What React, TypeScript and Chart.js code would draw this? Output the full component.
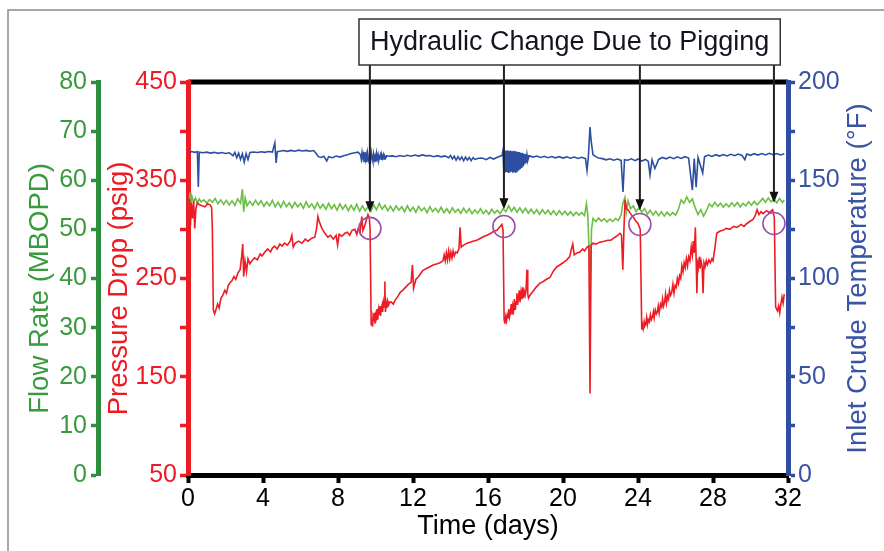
import { useEffect, useRef } from "react";
import { Chart, registerables } from "chart.js";

Chart.register(...registerables);

const FONT = "'Liberation Sans', Arial, sans-serif";

// Time axis (days)
const dayMin = 0;
const dayMax = 32;
const dayStep = 4;

// Pressure drop readings [day, psig]
const pressureReadings: [number, number][] = [
  [0.04, 318], [0.08, 331], [0.13, 304], [0.18, 327], [0.24, 311], [0.3, 329], [0.36, 301], [0.42, 321],
  [0.5, 327], [0.62, 325], [0.75, 324], [0.9, 323], [1.05, 326], [1.18, 325], [1.26, 322], [1.3, 300],
  [1.35, 218], [1.42, 214], [1.5, 219], [1.58, 224], [1.66, 220], [1.76, 230], [1.86, 233], [1.96, 238],
  [2.05, 235], [2.15, 243], [2.25, 246], [2.35, 248], [2.45, 252], [2.55, 249], [2.67, 256], [2.78, 259],
  [2.86, 272], [2.92, 285], [2.97, 252], [3.04, 268], [3.12, 257], [3.2, 270], [3.3, 265], [3.41, 268],
  [3.55, 271], [3.7, 269], [3.85, 275], [3.95, 273], [4.1, 277], [4.25, 280], [4.4, 277], [4.5, 281],
  [4.62, 283], [4.75, 280], [4.9, 285], [5.02, 283], [5.15, 286], [5.3, 284], [5.45, 288], [5.54, 294],
  [5.61, 282], [5.72, 286], [5.9, 288], [6.08, 286], [6.25, 290], [6.4, 288], [6.6, 291], [6.76, 292],
  [6.85, 300], [6.93, 313], [7.0, 308], [7.14, 301], [7.3, 296], [7.46, 292], [7.6, 294], [7.75, 290],
  [7.9, 294], [7.98, 284], [8.06, 295], [8.2, 293], [8.37, 296], [8.5, 297], [8.62, 294], [8.75, 299],
  [8.9, 300], [9.0, 295], [9.08, 301], [9.18, 298], [9.27, 313], [9.33, 299], [9.43, 304], [9.52, 310],
  [9.6, 315], [9.67, 312], [9.71, 300],
  [9.77, 203], [9.8, 209], [9.84, 201], [9.87, 211], [9.91, 207], [9.94, 215], [9.97, 204], [10.01, 213],
  [10.05, 210], [10.08, 219], [10.12, 208], [10.16, 218], [10.19, 214], [10.23, 222], [10.27, 212], [10.31, 220],
  [10.35, 223], [10.38, 216], [10.42, 226], [10.46, 221], [10.5, 247], [10.53, 216], [10.57, 225], [10.61, 220],
  [10.65, 227], [10.7, 223], [10.76, 226],
  [10.85, 226], [10.95, 224], [11.05, 228], [11.2, 232], [11.32, 236], [11.45, 238], [11.6, 241], [11.75, 244],
  [11.9, 246], [11.97, 264], [12.03, 240], [12.15, 249], [12.3, 252], [12.52, 258], [12.7, 260], [12.9, 262],
  [13.1, 264], [13.3, 265], [13.44, 266], [13.6, 268], [13.66, 274], [13.72, 268], [13.78, 276], [13.84, 269],
  [13.9, 278], [13.96, 270], [14.02, 277], [14.08, 271], [14.14, 278], [14.2, 273], [14.28, 277], [14.35, 276],
  [14.45, 280], [14.51, 302], [14.57, 282], [14.7, 284], [14.88, 286], [15.05, 287], [15.2, 288], [15.4, 289],
  [15.6, 291], [15.8, 293], [15.95, 294], [16.15, 296], [16.3, 298], [16.48, 299], [16.6, 302], [16.74, 305],
  [16.8, 300],
  [16.86, 208], [16.9, 204], [16.95, 211], [16.99, 207], [17.03, 213], [17.07, 210], [17.11, 219], [17.15, 211],
  [17.2, 216], [17.24, 224], [17.28, 214], [17.33, 222], [17.37, 219], [17.41, 229], [17.45, 218], [17.5, 226],
  [17.54, 235], [17.58, 223], [17.63, 231], [17.67, 238], [17.71, 226], [17.76, 236], [17.8, 229], [17.85, 241],
  [17.89, 230], [17.93, 237], [17.98, 233], [18.03, 239], [18.08, 259], [18.12, 234], [18.16, 230], [18.24, 233],
  [18.4, 237], [18.56, 241], [18.76, 245], [18.95, 247], [19.1, 249], [19.3, 251], [19.5, 258], [19.68, 262],
  [19.85, 264], [20.0, 266], [20.2, 269], [20.35, 272], [20.45, 280], [20.52, 285], [20.6, 274], [20.75, 276],
  [20.9, 277], [21.05, 280], [21.15, 278], [21.28, 282], [21.38, 283], [21.44, 133], [21.5, 284],
  [21.6, 286], [21.75, 285], [21.97, 287], [22.2, 288], [22.4, 289], [22.55, 289], [22.7, 291], [22.85, 293],
  [23.04, 296], [23.12, 294], [23.19, 259], [23.25, 300], [23.31, 330], [23.38, 321], [23.47, 320], [23.6, 316],
  [23.73, 313], [23.86, 309], [24.0, 306], [24.12, 300],
  [24.2, 198], [24.24, 203], [24.28, 199], [24.33, 206], [24.37, 202], [24.42, 204], [24.46, 210], [24.5, 203],
  [24.55, 208], [24.6, 206], [24.66, 213], [24.71, 208], [24.77, 211], [24.82, 216], [24.86, 210], [24.92, 218],
  [24.98, 214], [25.03, 216], [25.08, 222], [25.13, 215], [25.2, 224], [25.26, 221], [25.31, 229], [25.36, 222],
  [25.42, 226], [25.47, 234], [25.52, 225], [25.58, 232], [25.63, 229], [25.68, 238], [25.74, 233], [25.8, 236],
  [25.86, 244], [25.92, 235], [25.98, 243], [26.04, 241], [26.1, 250], [26.16, 245], [26.22, 253], [26.28, 250],
  [26.34, 263], [26.4, 257], [26.46, 266], [26.52, 261], [26.58, 270], [26.64, 263], [26.7, 272], [26.77, 268],
  [26.84, 282], [26.9, 274], [26.95, 288], [27.0, 276], [27.06, 302], [27.1, 270], [27.14, 235], [27.18, 268],
  [27.22, 262], [27.27, 272], [27.31, 260], [27.36, 268], [27.42, 262], [27.47, 235], [27.52, 266], [27.58, 262],
  [27.64, 268], [27.7, 264], [27.78, 269], [27.86, 266], [27.94, 270], [28.0, 268],
  [28.1, 281], [28.2, 296], [28.35, 298], [28.53, 299], [28.7, 301], [28.9, 300], [29.1, 303], [29.28, 302],
  [29.5, 305], [29.65, 303], [29.81, 306], [29.96, 308], [30.13, 310], [30.25, 314], [30.35, 320], [30.45, 315],
  [30.56, 318], [30.67, 316], [30.85, 319], [31.0, 317], [31.18, 320], [31.27, 312], [31.34, 221], [31.44, 217],
  [31.5, 222], [31.56, 215], [31.62, 224], [31.68, 231], [31.74, 225], [31.8, 234],
];

// Flow rate readings [day, MBOPD]
const flowReadings: [number, number][] = [
  [0.05, 53.5], [0.1, 57.5], [0.15, 55.0], [0.2, 56.8], [0.3, 55.6], [0.4, 56.4], [0.5, 55.4], [0.6, 56.2],
  [0.7, 55.6], [0.85, 56.0], [1.0, 55.3], [1.15, 56.1], [1.3, 55.5], [1.45, 56.3], [1.6, 55.2], [1.75, 56.0],
  [1.9, 55.1], [2.05, 55.9], [2.2, 55.0], [2.35, 55.8], [2.5, 54.9], [2.65, 56.2], [2.8, 55.3], [2.9, 58.2],
  [2.97, 53.6], [3.05, 56.4], [3.15, 54.8], [3.3, 55.7], [3.45, 54.9], [3.6, 55.9], [3.75, 55.0], [3.9, 55.8],
  [4.05, 54.7], [4.2, 55.6], [4.35, 54.8], [4.5, 55.9], [4.65, 54.6], [4.8, 55.5], [4.95, 54.5], [5.1, 55.7],
  [5.25, 54.6], [5.4, 55.4], [5.55, 54.4], [5.7, 55.5], [5.85, 54.6], [6.0, 55.3], [6.15, 54.3], [6.3, 55.6],
  [6.45, 54.5], [6.6, 55.2], [6.75, 54.2], [6.9, 55.4], [7.05, 54.3], [7.2, 55.1], [7.35, 54.1], [7.5, 55.3],
  [7.65, 54.2], [7.8, 55.0], [7.95, 53.9], [8.1, 55.2], [8.25, 54.1], [8.4, 55.0], [8.55, 53.8], [8.7, 54.9],
  [8.85, 53.9], [9.0, 55.1], [9.15, 53.7], [9.3, 54.8], [9.45, 53.8], [9.6, 54.6], [9.75, 53.6], [9.9, 55.0],
  [10.05, 54.0], [10.2, 55.3], [10.35, 54.1], [10.5, 54.9], [10.65, 53.8], [10.8, 54.7], [10.95, 53.7], [11.1, 54.8],
  [11.25, 53.9], [11.4, 54.6], [11.55, 53.6], [11.7, 54.8], [11.85, 53.7], [12.0, 54.5], [12.15, 53.5], [12.3, 54.7],
  [12.45, 53.8], [12.6, 54.4], [12.75, 53.4], [12.9, 54.6], [13.05, 53.6], [13.2, 54.3], [13.35, 53.5], [13.5, 54.5],
  [13.65, 53.4], [13.8, 54.2], [13.95, 53.3], [14.1, 54.4], [14.25, 53.5], [14.4, 54.1], [14.55, 53.3], [14.7, 54.3],
  [14.85, 53.4], [15.0, 54.2], [15.15, 53.2], [15.3, 54.0], [15.45, 53.3], [15.6, 54.2], [15.75, 53.2], [15.9, 53.9],
  [16.05, 53.1], [16.2, 54.1], [16.35, 53.3], [16.5, 53.9], [16.65, 53.2], [16.8, 54.2], [16.95, 53.6], [17.1, 54.8],
  [17.25, 53.7], [17.4, 54.5], [17.55, 53.5], [17.7, 54.4], [17.85, 53.4], [18.0, 54.3], [18.15, 53.3], [18.3, 54.1],
  [18.45, 53.2], [18.6, 54.0], [18.75, 53.1], [18.9, 54.0], [19.05, 53.2], [19.2, 53.9], [19.35, 53.0], [19.5, 53.8],
  [19.65, 52.9], [19.8, 53.8], [19.95, 53.0], [20.1, 53.7], [20.25, 52.9], [20.4, 53.6], [20.55, 52.8], [20.7, 53.5],
  [20.85, 52.9], [21.0, 53.4], [21.15, 52.8], [21.25, 55.2], [21.32, 53.0], [21.4, 45.0], [21.46, 38.3], [21.52, 50.0],
  [21.6, 52.2], [21.75, 51.6], [21.9, 52.3], [22.05, 51.7], [22.2, 52.2], [22.35, 51.5], [22.5, 52.1], [22.65, 51.6],
  [22.8, 52.2], [22.95, 51.8], [23.1, 53.0], [23.2, 55.4], [23.3, 56.5], [23.38, 53.5], [23.47, 55.8], [23.6, 54.2],
  [23.75, 54.8], [23.9, 53.6], [24.05, 54.4], [24.2, 53.5], [24.35, 54.2], [24.5, 53.1], [24.65, 53.9], [24.8, 52.9],
  [24.95, 53.7], [25.1, 52.8], [25.25, 53.6], [25.4, 52.7], [25.55, 53.5], [25.7, 52.8], [25.85, 53.4], [26.0, 52.9],
  [26.15, 54.0], [26.3, 56.0], [26.45, 55.3], [26.6, 56.6], [26.75, 55.5], [26.9, 56.2], [27.05, 54.4], [27.2, 53.0],
  [27.35, 54.0], [27.5, 52.7], [27.65, 53.8], [27.8, 55.2], [27.95, 54.6], [28.1, 55.5], [28.25, 54.7], [28.4, 55.3],
  [28.55, 54.5], [28.7, 55.2], [28.85, 54.6], [29.0, 55.4], [29.15, 54.7], [29.3, 55.5], [29.45, 54.6], [29.6, 55.3],
  [29.75, 54.8], [29.9, 55.6], [30.05, 54.9], [30.2, 55.7], [30.35, 55.0], [30.5, 55.6], [30.65, 56.3], [30.8, 55.5],
  [30.95, 56.4], [31.1, 55.6], [31.25, 56.2], [31.4, 55.4], [31.55, 56.3], [31.7, 55.5], [31.8, 56.0],
];

// Inlet crude temperature readings [day, °F]
const temperatureReadings: [number, number][] = [
  [0.05, 164.0], [0.2, 164.6], [0.35, 164.2], [0.5, 164.5], [0.55, 146.6], [0.6, 164.3], [0.8, 164.0], [1.0, 164.3],
  [1.2, 163.8], [1.4, 164.2], [1.6, 163.7], [1.8, 164.1], [2.0, 163.6], [2.2, 164.0], [2.4, 162.5], [2.5, 164.2],
  [2.6, 161.5], [2.7, 163.8], [2.8, 160.6], [2.9, 163.5], [3.0, 159.3], [3.1, 163.6], [3.2, 160.5], [3.3, 164.1],
  [3.5, 164.4], [3.7, 164.1], [3.9, 164.5], [4.1, 164.2], [4.3, 164.6], [4.5, 164.3], [4.63, 169.0], [4.7, 158.8],
  [4.76, 164.5], [4.9, 164.8], [5.1, 165.1], [5.3, 164.7], [5.5, 165.2], [5.7, 164.8], [5.9, 165.3], [6.1, 164.9],
  [6.3, 165.2], [6.5, 164.8], [6.7, 165.1], [6.85, 163.5], [6.95, 162.0], [7.1, 161.6], [7.25, 162.2], [7.4, 159.8],
  [7.5, 162.0], [7.7, 161.5], [7.9, 162.3], [8.1, 161.8], [8.3, 162.5], [8.5, 163.0], [8.7, 163.6], [8.9, 164.0],
  [9.07, 164.3],
  [9.2, 163.0], [9.24, 160.9], [9.28, 164.1], [9.31, 161.8], [9.35, 163.2], [9.39, 159.6], [9.43, 164.3], [9.47, 160.8],
  [9.5, 162.7], [9.54, 159.2], [9.58, 163.9], [9.62, 161.3], [9.66, 158.9], [9.7, 163.5], [9.74, 160.2], [9.78, 164.0],
  [9.82, 161.5], [9.86, 159.7], [9.9, 163.3], [9.94, 160.6], [9.98, 162.2], [10.02, 159.4], [10.06, 163.6], [10.1, 161.0],
  [10.14, 162.9], [10.18, 160.3], [10.22, 161.8], [10.26, 163.1], [10.3, 160.7], [10.34, 162.6], [10.38, 161.2], [10.42, 162.9],
  [10.46, 160.9], [10.5, 162.3], [10.55, 161.4], [10.6, 162.5], [10.7, 162.2],
  [10.9, 162.4], [11.1, 162.0], [11.3, 162.6], [11.5, 162.1], [11.7, 162.7], [11.9, 162.2], [12.1, 162.8],
  [12.3, 162.3], [12.5, 162.9], [12.7, 162.4], [12.9, 162.6], [13.1, 162.0], [13.3, 162.5], [13.5, 161.9], [13.7, 162.4],
  [13.9, 161.5], [14.0, 162.6], [14.1, 160.8], [14.2, 162.3], [14.3, 160.2], [14.4, 162.0], [14.5, 160.4], [14.6, 161.9],
  [14.7, 159.9], [14.8, 161.8], [14.9, 160.3], [15.0, 161.6], [15.1, 160.0], [15.2, 161.5], [15.3, 160.6], [15.5, 161.2],
  [15.7, 161.3], [15.9, 160.5], [16.1, 161.6], [16.3, 160.8], [16.5, 161.7], [16.7, 162.5],
  [16.75, 162.6], [16.8, 165.2], [16.84, 154.5], [16.88, 165.4], [16.92, 153.9], [16.96, 165.0], [17.0, 154.2], [17.04, 165.3],
  [17.08, 153.7], [17.12, 164.9], [17.16, 154.0], [17.2, 165.1], [17.24, 154.4], [17.28, 164.8], [17.32, 153.8], [17.36, 165.0],
  [17.4, 154.1], [17.44, 164.7], [17.48, 153.7], [17.52, 164.6], [17.56, 154.3], [17.6, 164.4], [17.64, 155.0], [17.68, 164.2],
  [17.72, 155.6], [17.76, 164.0], [17.8, 156.2], [17.84, 163.8], [17.88, 157.0], [17.92, 163.5], [17.96, 158.2], [18.0, 163.2],
  [18.04, 159.0], [18.08, 162.9], [18.12, 160.0], [18.2, 162.5],
  [18.4, 161.8], [18.6, 162.3], [18.8, 161.6], [19.0, 162.2], [19.2, 161.5], [19.4, 162.1], [19.6, 161.4], [19.8, 162.0],
  [20.0, 161.3], [20.2, 161.9], [20.4, 161.2], [20.6, 161.8], [20.8, 161.1], [21.0, 161.7], [21.2, 161.0], [21.28, 155.0],
  [21.35, 161.5], [21.44, 177.1], [21.5, 170.0], [21.6, 163.0], [21.75, 162.0], [21.9, 161.3], [22.1, 161.0], [22.3, 160.4],
  [22.5, 160.9], [22.7, 160.2], [22.9, 160.8], [23.1, 160.1], [23.2, 144.0], [23.28, 160.5], [23.45, 160.2], [23.65, 160.9],
  [23.85, 160.0], [24.0, 160.8], [24.2, 159.8], [24.4, 160.6], [24.55, 159.6], [24.64, 152.7], [24.75, 160.4], [24.9, 156.0],
  [25.1, 160.6], [25.3, 161.6], [25.5, 160.9], [25.7, 161.8], [25.9, 161.0], [26.1, 161.9], [26.3, 161.1], [26.5, 162.0],
  [26.7, 161.3], [26.9, 145.0], [27.0, 161.0], [27.1, 146.5], [27.2, 161.6], [27.45, 153.7], [27.55, 162.0], [27.75, 162.8],
  [27.95, 162.1], [28.15, 163.0], [28.35, 162.3], [28.55, 163.1], [28.75, 162.4], [28.95, 163.2], [29.15, 162.5], [29.35, 163.3],
  [29.55, 162.6], [29.7, 160.5], [29.8, 163.4], [30.0, 162.7], [30.2, 163.5], [30.4, 162.8], [30.6, 163.6], [30.8, 162.9],
  [31.0, 163.7], [31.2, 163.0], [31.4, 163.6], [31.6, 162.9], [31.8, 163.5],
];

// Pigging events: day, pressure at the hydraulic change, flow where the arrow lands
const pigDays = [9.7, 16.85, 24.1, 31.25];
const pigPressure = [301, 303, 305, 306];
const pigArrowFlow = [53.5, 54.1, 53.9, 55.4];

const calloutText = "Hydraulic Change Due to Pigging";

const GREEN_AXIS = "#2e8f3e";
const GREEN_TEXT = "#3a9a3f";
const RED = "#ed1c24";
const BLUE_AXIS = "#2f4ea2";
const BLUE_TEXT = "#3a54a4";

const decorations = {
  id: "decorations",
  beforeDraw(chart: any) {
    const { ctx, chartArea: a } = chart;
    ctx.save();
    // page frame
    ctx.strokeStyle = "#8c8c8c";
    ctx.lineWidth = 1.5;
    ctx.beginPath();
    ctx.moveTo(8, chart.height);
    ctx.lineTo(8, 10);
    ctx.lineTo(chart.width, 10);
    ctx.stroke();
    // top frame of the plot
    ctx.strokeStyle = "#000";
    ctx.lineWidth = 5;
    ctx.beginPath();
    ctx.moveTo(a.left, a.top);
    ctx.lineTo(a.right, a.top);
    ctx.stroke();
    ctx.restore();
  },
  afterDatasetsDraw(chart: any) {
    const { ctx, scales } = chart;
    ctx.save();
    ctx.strokeStyle = "#9a4fa8";
    ctx.lineWidth = 1.6;
    pigDays.forEach((d, i) => {
      const x = scales.x.getPixelForValue(d);
      const y = scales.yPress.getPixelForValue(pigPressure[i]);
      ctx.beginPath();
      ctx.arc(x, y, 11, 0, Math.PI * 2);
      ctx.stroke();
    });
    ctx.restore();
  },
  afterDraw(chart: any) {
    const { ctx, chartArea: a, scales } = chart;
    ctx.save();
    const mid = (a.top + a.bottom) / 2 + 10;

    // axis titles
    const title = (text: string, x: number, y: number, color: string) => {
      ctx.save();
      ctx.translate(x, y);
      ctx.rotate(-Math.PI / 2);
      ctx.fillStyle = color;
      ctx.font = `27.5px ${FONT}`;
      ctx.textAlign = "center";
      ctx.textBaseline = "middle";
      ctx.fillText(text, 0, 0);
      ctx.restore();
    };
    title("Flow Rate (MBOPD)", scales.yFlow.left + 32, mid, GREEN_TEXT);
    title("Pressure Drop (psig)", scales.yPress.left + 21, mid, RED);
    title("Inlet Crude Temperature (°F)", scales.yTemp.right - 26, (a.top + a.bottom) / 2, BLUE_TEXT);

    // callout box
    ctx.font = `27px ${FONT}`;
    const tw = ctx.measureText(calloutText).width;
    const bw = tw + 22;
    const bx = a.left + 171;
    const by = 19;
    const bh = 46;
    // arrows
    ctx.strokeStyle = "#222";
    ctx.fillStyle = "#111";
    ctx.lineWidth = 2;
    pigDays.forEach((d, i) => {
      const x = scales.x.getPixelForValue(d);
      const tip = scales.yFlow.getPixelForValue(pigArrowFlow[i]);
      ctx.beginPath();
      ctx.moveTo(x, by + bh);
      ctx.lineTo(x, tip - 9);
      ctx.stroke();
      ctx.beginPath();
      ctx.moveTo(x, tip);
      ctx.lineTo(x - 4.5, tip - 11);
      ctx.lineTo(x + 4.5, tip - 11);
      ctx.closePath();
      ctx.fill();
    });
    ctx.fillStyle = "#fff";
    ctx.fillRect(bx, by, bw, bh);
    ctx.strokeStyle = "#333";
    ctx.lineWidth = 1.5;
    ctx.strokeRect(bx, by, bw, bh);
    ctx.fillStyle = "#141420";
    ctx.textAlign = "center";
    ctx.textBaseline = "middle";
    ctx.fillText(calloutText, bx + bw / 2, by + bh / 2 + 1);
    ctx.restore();
  },
};

export default function App() {
  const canvasRef = useRef<HTMLCanvasElement | null>(null);

  useEffect(() => {
    const canvas = canvasRef.current;
    if (!canvas) return;
    const tickFont = { family: FONT, size: 25 };

    const chart = new Chart(canvas, {
      type: "line",
      data: {
        datasets: [
          {
            label: "Pressure Drop",
            data: pressureReadings.map(([x, y]) => ({ x, y })),
            yAxisID: "yPress",
            borderColor: RED,
            borderWidth: 1.6,
            pointRadius: 0,
            order: 1,
          },
          {
            label: "Flow Rate",
            data: flowReadings.map(([x, y]) => ({ x, y })),
            yAxisID: "yFlow",
            borderColor: "#6cbf45",
            borderWidth: 1.6,
            pointRadius: 0,
            order: 2,
          },
          {
            label: "Inlet Crude Temperature",
            data: temperatureReadings.map(([x, y]) => ({ x, y })),
            yAxisID: "yTemp",
            borderColor: "#2d4fa3",
            borderWidth: 1.6,
            pointRadius: 0,
            order: 3,
          },
        ],
      },
      options: {
        responsive: false,
        animation: false,
        events: [],
        layout: { padding: { left: 8, right: 0, top: 82, bottom: 0 } },
        plugins: { legend: { display: false }, tooltip: { enabled: false } },
        scales: {
          x: {
            type: "linear",
            position: "bottom",
            min: dayMin,
            max: dayMax,
            ticks: { stepSize: dayStep, color: "#000", font: tickFont, padding: 1, maxRotation: 0, autoSkip: false },
            grid: { drawOnChartArea: false, tickLength: 8, tickWidth: 4, tickColor: "#000" },
            border: { color: "#000", width: 5 },
            title: { display: true, text: "Time (days)", color: "#000", font: { family: FONT, size: 27 }, padding: { top: 0, bottom: 8 } },
            afterFit: (s: any) => { s.height = 76; },
          },
          yFlow: {
            type: "linear",
            position: "left",
            weight: 2,
            min: 0,
            max: 80,
            ticks: { stepSize: 10, color: GREEN_TEXT, font: tickFont, padding: 4, autoSkip: false },
            grid: { drawOnChartArea: false, tickLength: 7, tickWidth: 3.5, tickColor: GREEN_AXIS },
            border: { color: GREEN_AXIS, width: 5 },
            afterFit: (s: any) => { s.width = 90; },
          },
          yPress: {
            type: "linear",
            position: "left",
            weight: 1,
            min: 50,
            max: 450,
            ticks: {
              stepSize: 50,
              color: RED,
              font: tickFont,
              padding: 3,
              autoSkip: false,
              callback: (v: any) => ((Number(v) - 50) % 100 === 0 ? String(v) : ""),
            },
            grid: { drawOnChartArea: false, tickLength: 8, tickWidth: 3.5, tickColor: RED },
            border: { color: RED, width: 5 },
            afterFit: (s: any) => { s.width = 90; },
          },
          yTemp: {
            type: "linear",
            position: "right",
            min: 0,
            max: 200,
            ticks: {
              stepSize: 25,
              color: BLUE_TEXT,
              font: tickFont,
              padding: 3,
              autoSkip: false,
              callback: (v: any) => (Number(v) % 50 === 0 ? String(v) : ""),
            },
            grid: { drawOnChartArea: false, tickLength: 7, tickWidth: 3.5, tickColor: BLUE_AXIS },
            border: { color: BLUE_AXIS, width: 5 },
            afterFit: (s: any) => { s.width = 96; },
          },
        },
      },
      plugins: [decorations],
    });

    return () => chart.destroy();
  }, []);

  return (
    <div style={{ position: "absolute", left: 0, top: 0, width: 884, height: 551, background: "#fff" }}>
      <canvas ref={canvasRef} width={884} height={551} />
    </div>
  );
}
